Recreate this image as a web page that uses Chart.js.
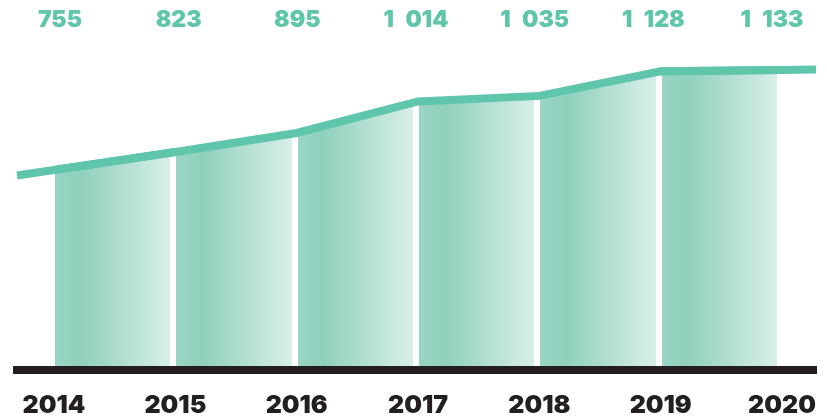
<!DOCTYPE html>
<html>
<head>
<meta charset="utf-8">
<script src="https://cdn.jsdelivr.net/npm/chart.js@4/dist/chart.umd.min.js"></script>
<style>
  html, body { margin: 0; padding: 0; background: #fff; }
  #wrap { width: 827px; height: 418px; }
</style>
</head>
<body>
<div id="wrap"><canvas id="chart"></canvas></div>
<script>
// data
const years = [2014, 2015, 2016, 2017, 2018, 2019, 2020];
const values = [755, 823, 895, 1014, 1035, 1128, 1133];

const teal = '#5fc5ab';
const dark = '#231f20';
const fontFamily = "Inter, 'DejaVu Sans', sans-serif";

function fmt(n) {
    // "1 014" style, en space as thousands separator
    return String(n).replace(/\B(?=(\d{3})+(?!\d))/g, '\u2002');
}

function barGradient(ctx, x0, x1) {
    const w = x1 - x0;
    const g = ctx.createLinearGradient(x0, 0, x1, 0);
    const a = 1 / w, b = 1 - 5 / w;
    g.addColorStop(0, '#ffffff');
    g.addColorStop(a, '#ffffff');
    g.addColorStop(a, '#9ad5c5');
    g.addColorStop(0.22, '#8fd0bc');
    g.addColorStop(b, '#d9efe9');
    g.addColorStop(b, '#ffffff');
    g.addColorStop(1, '#ffffff');
    return g;
}

// line keeps going past first and last year to the edges of the plot
const lineEnds = {
    id: 'lineEnds',
    afterDatasetsDraw(chart) {
        const pts = chart.getDatasetMeta(0).data;
        const n = pts.length;
        const {left, right} = chart.chartArea;
        const ext = (a, b, x) => ({x: x, y: a.y + (b.y - a.y) * (x - a.x) / (b.x - a.x)});
        const l = ext(pts[0], pts[1], left);
        const r = ext(pts[n - 2], pts[n - 1], right);
        const ctx = chart.ctx;
        ctx.save();
        ctx.strokeStyle = teal;
        ctx.lineWidth = 8;
        ctx.lineCap = 'butt';
        ctx.lineJoin = 'miter';
        ctx.beginPath();
        ctx.moveTo(l.x, l.y);
        ctx.lineTo(pts[0].x, pts[0].y);
        ctx.lineTo(pts[1].x, pts[1].y);
        ctx.stroke();
        ctx.beginPath();
        ctx.moveTo(pts[n - 2].x, pts[n - 2].y);
        ctx.lineTo(pts[n - 1].x, pts[n - 1].y);
        ctx.lineTo(r.x, r.y);
        ctx.stroke();
        ctx.restore();
    }
};

const points = years.map((y, i) => ({x: y, y: values[i]}));

new Chart(document.getElementById('chart'), {
    type: 'line',
    data: {
        datasets: [
            {
                data: points,
                xAxisID: 'x',
                borderColor: teal,
                borderWidth: 8,
                borderJoinStyle: 'miter',
                borderCapStyle: 'butt',
                pointRadius: 0,
                tension: 0,
                fill: false
            },
            {
                data: points,
                xAxisID: 'x',
                borderWidth: 0,
                pointRadius: 0,
                tension: 0,
                fill: 'origin',
                backgroundColor: '#9ad5c5',
                segment: {
                    backgroundColor: c => barGradient(c.chart.ctx, c.p0.x, c.p1.x)
                }
            }
        ]
    },
    options: {
        responsive: true,
        maintainAspectRatio: false,
        animation: false,
        layout: { padding: { left: 17, right: 11, top: 9, bottom: -22 } },
        plugins: { legend: { display: false }, tooltip: { enabled: false } },
        scales: {
            x: {
                type: 'linear',
                position: 'bottom',
                min: 2013.695,
                max: 2020.28,
                afterBuildTicks: s => { s.ticks = years.map(v => ({value: v})); },
                grid: { display: false, drawTicks: false },
                border: { display: true, color: dark, width: 8, z: 1 },
                ticks: {
                    padding: 0,
                    color: dark,
                    maxRotation: 0,
                    font: { family: fontFamily, weight: 900, size: 25, lineHeight: '70px' },
                    callback: v => String(v)
                }
            },
            x2: {
                type: 'linear',
                position: 'top',
                min: 2013.638,
                max: 2020.371,
                afterBuildTicks: s => { s.ticks = years.map(v => ({value: v})); },
                grid: { display: false, drawTicks: false },
                border: { display: false },
                ticks: {
                    padding: 0,
                    color: teal,
                    maxRotation: 0,
                    font: { family: fontFamily, weight: 900, size: 23, lineHeight: '22px' },
                    callback: (v, i) => fmt(values[i])
                }
            },
            y: {
                display: false,
                min: 0,
                max: 1280
            }
        }
    },
    plugins: [lineEnds]
});
</script>
</body>
</html>
